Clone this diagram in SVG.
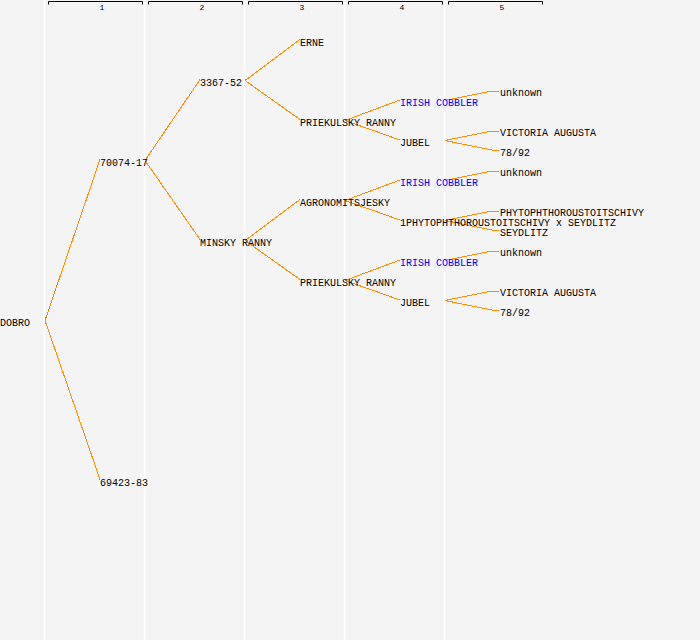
<svg xmlns="http://www.w3.org/2000/svg" width="700" height="640" viewBox="0 0 700 640">
<style>
.bg{fill:#f4f4f4}
.sep{stroke:#ffffff;stroke-width:1.5}
.br{fill:none;stroke:#000000;stroke-width:1}
.hd{font-family:"Liberation Mono","DejaVu Sans Mono",monospace;font-size:8px;fill:#000000;text-anchor:middle}
text{font-family:"Liberation Mono","DejaVu Sans Mono",monospace;font-size:10px;fill:#000000}
text.b{fill:#0000ff}
.c{fill:none;stroke:#ff8c00;stroke-width:1}
</style>
<rect class="bg" x="0" y="0" width="700" height="640"/>
<g id="grid">
<line class="sep" x1="44.5" y1="0" x2="44.5" y2="640"/>
<line class="sep" x1="144.5" y1="0" x2="144.5" y2="640"/>
<line class="sep" x1="244.5" y1="0" x2="244.5" y2="640"/>
<line class="sep" x1="344.5" y1="0" x2="344.5" y2="640"/>
<line class="sep" x1="444.5" y1="0" x2="444.5" y2="640"/>
</g>
<g id="headers">
<path class="br" d="M48.5,4.5 V1.5 H142.5 V4.5"/>
<path class="br" d="M148.5,4.5 V1.5 H242.5 V4.5"/>
<path class="br" d="M248.5,4.5 V1.5 H342.5 V4.5"/>
<path class="br" d="M348.5,4.5 V1.5 H442.5 V4.5"/>
<path class="br" d="M448.5,4.5 V1.5 H542.5 V4.5"/>
<text class="hd" x="102" y="9.5">1</text>
<text class="hd" x="202" y="9.5">2</text>
<text class="hd" x="302" y="9.5">3</text>
<text class="hd" x="402" y="9.5">4</text>
<text class="hd" x="502" y="9.5">5</text>
</g>
<g id="connectors" shape-rendering="crispEdges">
<path class="c" d="M45,320.5 L100,159.5"/>
<path class="c" d="M45,320.5 L100,479.5"/>
<path class="c" d="M145,160.5 L200,79.5"/>
<path class="c" d="M145,160.5 L200,239.5"/>
<path class="c" d="M245,80.5 L300,39.5"/>
<path class="c" d="M245,80.5 L300,119.5"/>
<path class="c" d="M245,240.5 L300,199.5"/>
<path class="c" d="M245,240.5 L300,279.5"/>
<path class="c" d="M345,120.5 L400,100"/>
<path class="c" d="M345,120.5 L400,140"/>
<path class="c" d="M345,200.5 L400,180"/>
<path class="c" d="M345,200.5 L400,220"/>
<path class="c" d="M345,280.5 L400,260"/>
<path class="c" d="M345,280.5 L400,300"/>
<path class="c" d="M445,100.5 L492,91 L499,91"/>
<path class="c" d="M445,140.5 L492,131 L499,131"/>
<path class="c" d="M445,140.5 L492,150 L499,150"/>
<path class="c" d="M445,180.5 L492,171 L499,171"/>
<path class="c" d="M445,220.5 L492,211 L499,211"/>
<path class="c" d="M445,220.5 L492,230 L499,230"/>
<path class="c" d="M445,260.5 L492,251 L499,251"/>
<path class="c" d="M445,300.5 L492,291 L499,291"/>
<path class="c" d="M445,300.5 L492,310 L499,310"/>
</g>
<g id="n-dobro"><text x="0" y="326">DOBRO</text></g>
<g id="n-70074-17"><text x="100" y="166">70074-17</text></g>
<g id="n-69423-83"><text x="100" y="486">69423-83</text></g>
<g id="n-3367-52"><text x="200" y="86">3367-52</text></g>
<g id="n-minsky-ranny"><text x="200" y="246">MINSKY RANNY</text></g>
<g id="n-erne"><text x="300" y="46">ERNE</text></g>
<g id="n-priekulsky-1"><text x="300" y="126">PRIEKULSKY RANNY</text></g>
<g id="n-agronomitsjesky"><text x="300" y="206">AGRONOMITSJESKY</text></g>
<g id="n-priekulsky-2"><text x="300" y="286">PRIEKULSKY RANNY</text></g>
<g id="n-irish-1"><text class="b" x="400" y="106">IRISH COBBLER</text></g>
<g id="n-jubel-1"><text x="400" y="146">JUBEL</text></g>
<g id="n-irish-2"><text class="b" x="400" y="186">IRISH COBBLER</text></g>
<g id="n-1phyto"><text x="400" y="226">1PHYTOPHTHOROUSTOITSCHIVY x SEYDLITZ</text></g>
<g id="n-irish-3"><text class="b" x="400" y="266">IRISH COBBLER</text></g>
<g id="n-jubel-2"><text x="400" y="306">JUBEL</text></g>
<g id="n-unknown-1"><text x="500" y="96">unknown</text></g>
<g id="n-victoria-1"><text x="500" y="136">VICTORIA AUGUSTA</text></g>
<g id="n-7892-1"><text x="500" y="156">78/92</text></g>
<g id="n-unknown-2"><text x="500" y="176">unknown</text></g>
<g id="n-phyto"><text x="500" y="216">PHYTOPHTHOROUSTOITSCHIVY</text></g>
<g id="n-seydlitz"><text x="500" y="236">SEYDLITZ</text></g>
<g id="n-unknown-3"><text x="500" y="256">unknown</text></g>
<g id="n-victoria-2"><text x="500" y="296">VICTORIA AUGUSTA</text></g>
<g id="n-7892-2"><text x="500" y="316">78/92</text></g>
</svg>
